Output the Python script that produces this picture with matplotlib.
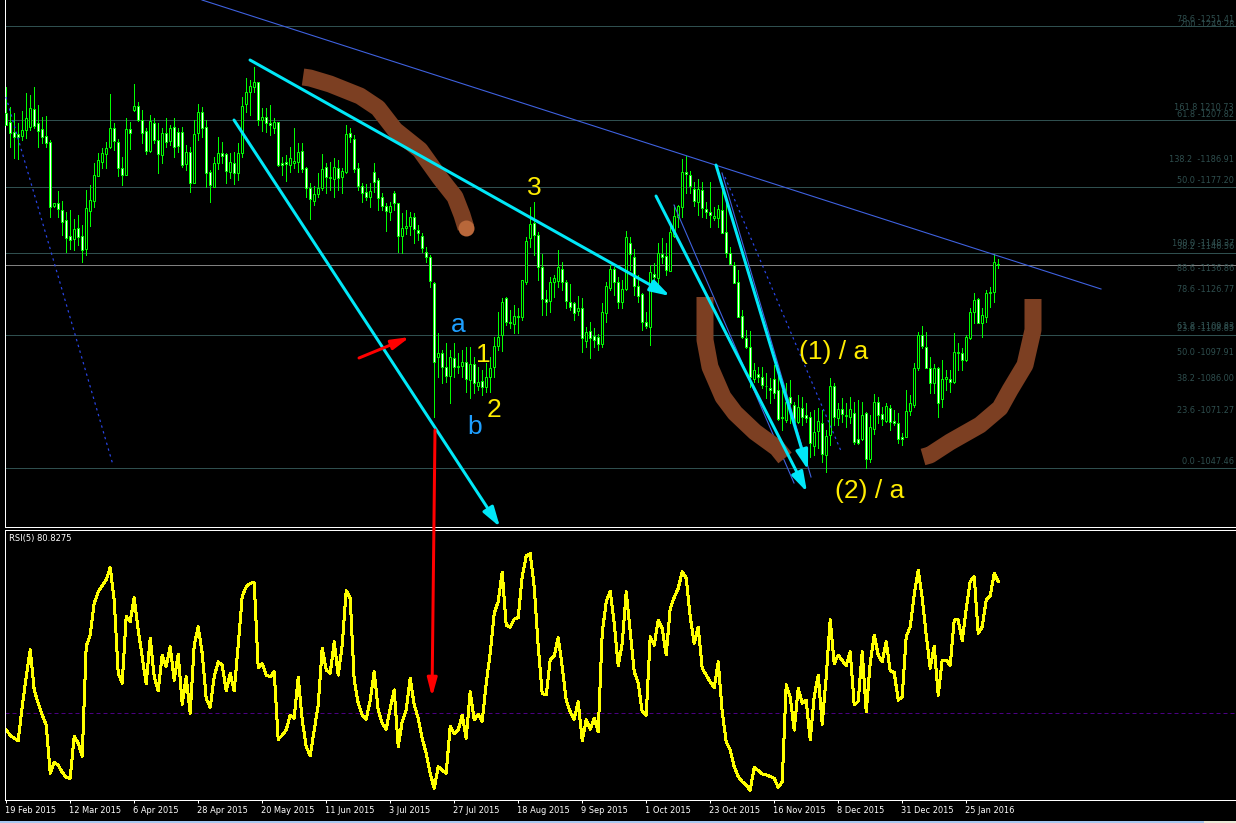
import matplotlib
matplotlib.use("Agg")
import numpy as np
import matplotlib.pyplot as plt
from matplotlib.patches import Rectangle
from matplotlib.transforms import ScaledTranslation

W, H = 1236, 823

highs = [1223.4,1214.2,1211.1,1206.5,1212.3,1220.3,1219.6,1223.1,1214.9,1209.6,1209.9,1198.8,1169.6,1175.3,1170.8,1165.7,1166.5,1162.2,1164.2,1159.6,
1175.7,1178.0,1188.0,1192.6,1194.9,1198.0,1220.0,1206.5,1199.1,1191.1,1208.8,1207.3,1224.6,1216.5,1212.6,1204.2,1210.3,1208.8,1206.5,1204.2,
1208.8,1205.7,1208.8,1204.2,1204.9,1196.5,1195.7,1208.0,1215.4,1214.2,1208.0,1184.9,1191.1,1200.0,1198.0,1192.6,1192.6,1193.4,1197.2,1218.8,
1227.2,1226.5,1232.3,1225.7,1213.4,1213.4,1214.9,1208.8,1207.3,1190.8,1191.9,1195.7,1204.2,1197.2,1197.2,1186.5,1178.8,1177.6,1183.4,1192.2,
1188.0,1188.8,1190.6,1189.6,1185.7,1205.7,1204.2,1201.1,1188.0,1178.8,1178.5,1178.8,1188.0,1181.1,1174.5,1169.6,1170.3,1175.3,1169.6,1165.0,
1166.5,1165.4,1165.0,1159.6,1155.7,1149.6,1145.8,1133.4,1109.6,1101.9,1105.0,1101.9,1105.0,1100.4,1101.9,1103.4,1103.4,1098.8,1094.2,1092.7,
1095.8,1098.8,1108.1,1119.3,1125.8,1126.5,1120.4,1122.7,1121.1,1134.2,1153.9,1168.1,1170.0,1156.5,1146.2,1129.6,1135.8,1136.5,1148.0,1142.4,
1134.2,1132.4,1124.2,1126.8,1125.8,1112.7,1115.0,1111.9,1109.3,1123.8,1133.4,1141.1,1140.4,1135.8,1134.2,1156.8,1154.2,1148.5,1136.5,1128.1,
1119.6,1141.1,1141.9,1151.1,1153.4,1151.1,1159.1,1168.8,1168.8,1190.0,1191.6,1184.5,1179.6,1180.7,1179.6,1170.3,1179.3,1168.0,1168.8,1177.3,
1171.1,1149.6,1142.7,1138.8,1120.4,1111.1,1110.8,1095.8,1094.2,1094.2,1091.1,1088.8,1095.0,1092.7,1083.5,1086.5,1088.1,1078.1,1081.1,1080.4,
1077.3,1073.5,1074.2,1075.0,1074.2,1065.0,1088.8,1086.5,1077.3,1079.6,1077.3,1080.4,1078.1,1078.8,1078.1,1073.5,1071.9,1081.6,1080.4,1075.8,
1077.3,1076.5,1074.2,1072.7,1063.5,1083.5,1081.1,1095.8,1110.4,1113.0,1110.4,1098.8,1095.4,1094.2,1097.3,1092.7,1092.7,1109.9,1105.0,1102.7,
1108.8,1121.1,1128.0,1125.7,1121.1,1129.6,1131.1,1146.2,1143.7]

lows = [1205.7,1195.7,1190.6,1189.9,1198.8,1199.6,1203.4,1204.2,1195.4,1197.6,1195.4,1163.4,1168.0,1163.4,1155.0,1147.3,1148.3,1148.0,1150.3,1142.7,
1145.7,1159.1,1168.0,1182.6,1185.7,1185.7,1194.9,1194.2,1182.2,1178.0,1182.6,1194.5,1212.3,1207.7,1197.2,1192.3,1193.4,1197.2,1183.4,1188.0,
1195.7,1196.5,1191.1,1193.4,1186.5,1184.9,1174.9,1178.8,1198.8,1200.3,1176.9,1170.3,1176.9,1185.2,1188.0,1178.8,1181.1,1178.5,1180.3,1191.1,
1211.9,1210.3,1221.1,1205.7,1203.1,1202.6,1201.1,1201.9,1186.8,1182.6,1180.0,1184.2,1185.7,1184.2,1184.2,1172.6,1162.3,1168.8,1172.3,1175.7,
1174.2,1175.7,1172.6,1175.7,1174.2,1183.4,1198.0,1184.2,1175.7,1170.3,1171.1,1168.0,1174.9,1166.5,1166.5,1156.8,1161.9,1166.5,1147.3,1146.5,
1155.3,1155.0,1151.1,1152.7,1147.3,1142.7,1130.8,1071.1,1089.6,1086.5,1087.3,1077.3,1089.6,1091.1,1089.6,1082.7,1079.6,1081.9,1083.5,1081.2,
1082.7,1082.7,1089.6,1101.9,1101.6,1113.5,1111.9,1109.6,1109.6,1115.8,1132.4,1149.6,1145.8,1134.2,1118.1,1118.1,1119.6,1126.5,1131.1,1129.6,
1121.1,1120.4,1115.8,1118.1,1101.1,1103.4,1098.4,1103.4,1101.9,1103.4,1115.0,1129.6,1127.3,1121.1,1121.1,1129.6,1138.8,1127.3,1124.2,1111.1,
1111.9,1104.2,1129.6,1130.4,1141.9,1136.5,1138.5,1154.2,1158.5,1163.4,1174.2,1174.2,1168.5,1164.2,1163.1,1162.7,1158.8,1161.9,1158.8,1155.7,
1145.0,1141.6,1132.7,1117.3,1107.3,1102.7,1085.0,1087.3,1087.3,1084.2,1079.6,1077.3,1079.6,1069.6,1065.0,1068.8,1068.1,1068.4,1068.4,1067.3,
1068.8,1052.7,1053.5,1056.5,1050.4,1045.8,1058.1,1067.3,1067.3,1068.8,1066.5,1068.1,1058.5,1058.5,1060.4,1047.3,1050.4,1063.2,1068.1,1067.3,
1068.8,1065.0,1067.3,1059.1,1058.1,1061.6,1071.9,1075.8,1092.7,1102.7,1093.5,1081.9,1081.9,1071.1,1075.8,1083.5,1082.7,1086.5,1092.7,1092.7,
1097.0,1106.8,1114.2,1114.2,1108.1,1115.0,1121.9,1123.9,1139.6]

opens = [1211.4,1207.3,1202.6,1201.6,1200.6,1203.4,1204.9,1212.9,1206.5,1203.7,1200.6,1198.0,1168.5,1169.6,1166.5,1161.9,1154.5,1153.1,1158.0,1154.5,
1148.3,1166.2,1170.8,1182.3,1188.8,1192.3,1195.7,1204.2,1197.7,1185.7,1182.6,1203.7,1212.6,1214.5,1208.0,1202.9,1193.9,1206.8,1198.8,1191.9,
1201.9,1198.5,1204.6,1202.3,1202.3,1187.6,1193.4,1178.8,1201.9,1211.9,1204.9,1184.2,1176.9,1188.0,1192.9,1192.2,1184.2,1188.3,1183.4,1192.9,
1215.2,1221.1,1223.4,1225.7,1208.0,1209.6,1206.5,1204.5,1206.9,1188.0,1188.5,1187.3,1188.3,1188.8,1193.6,1185.7,1176.5,1170.8,1173.7,1176.5,
1186.2,1181.4,1180.6,1185.7,1181.6,1184.2,1201.9,1199.1,1185.7,1177.6,1174.6,1172.6,1184.2,1180.3,1172.3,1168.3,1165.7,1174.5,1169.6,1154.7,
1158.3,1159.3,1163.1,1157.3,1154.7,1147.3,1145.0,1132.7,1098.5,1100.7,1094.2,1090.1,1098.4,1094.2,1094.7,1096.5,1088.1,1095.3,1085.5,1087.8,
1084.7,1089.3,1094.2,1103.9,1108.8,1125.8,1115.0,1113.9,1117.6,1117.3,1133.4,1153.4,1160.4,1155.0,1140.0,1125.3,1124.7,1133.1,1133.9,1139.1,
1133.4,1124.2,1123.4,1119.9,1121.4,1106.1,1110.8,1108.4,1107.8,1104.7,1119.1,1130.4,1139.1,1133.1,1124.2,1130.1,1151.1,1144.7,1131.6,1127.6,
1115.0,1112.7,1136.8,1135.0,1146.2,1145.3,1138.5,1154.5,1163.4,1168.0,1183.9,1182.5,1176.0,1170.3,1175.7,1166.8,1165.4,1163.0,1162.7,1166.5,
1156.2,1146.5,1141.1,1133.1,1117.6,1107.3,1103.4,1088.4,1090.8,1089.3,1085.5,1084.2,1088.4,1083.5,1070.8,1069.6,1080.4,1076.5,1068.8,1075.0,
1071.8,1071.2,1057.6,1064.7,1068.1,1053.5,1062.5,1085.5,1070.4,1074.5,1071.5,1071.1,1073.0,1060.7,1060.7,1072.7,1051.5,1065.3,1078.1,1072.2,
1069.3,1075.3,1069.1,1068.4,1061.6,1061.9,1073.9,1076.5,1093.5,1108.8,1103.4,1093.5,1086.5,1093.5,1079.2,1088.5,1088.4,1087.0,1100.4,1100.7,
1097.3,1107.3,1119.3,1125.3,1114.2,1117.3,1128.0,1128.8,1141.7]

closes = [1205.7,1202.2,1200.3,1200.0,1203.4,1208.8,1213.4,1205.2,1203.1,1200.3,1197.6,1168.0,1169.6,1167.0,1161.1,1153.7,1152.6,1157.7,1154.2,1148.0,
1167.3,1171.1,1182.6,1189.6,1192.6,1194.9,1204.2,1198.5,1185.7,1182.6,1203.7,1202.2,1214.5,1208.0,1202.2,1193.9,1207.6,1198.8,1192.2,1201.9,
1198.0,1204.2,1195.7,1196.0,1187.1,1193.4,1179.1,1201.4,1211.9,1204.2,1183.7,1178.0,1188.0,1192.9,1191.6,1184.5,1188.5,1183.7,1192.9,1214.6,
1221.1,1223.9,1225.4,1208.0,1209.2,1206.5,1205.7,1207.3,1187.1,1187.1,1187.6,1190.3,1188.9,1193.1,1185.4,1176.5,1171.4,1173.7,1176.5,1185.2,
1181.9,1181.9,1186.2,1181.4,1184.6,1201.6,1200.0,1185.3,1177.6,1174.5,1172.6,1175.3,1179.6,1171.9,1168.3,1166.2,1168.3,1169.9,1154.6,1158.0,
1159.1,1163.1,1157.7,1155.7,1149.1,1145.0,1133.9,1096.2,1100.7,1093.9,1090.1,1098.8,1093.9,1094.7,1096.5,1088.4,1095.3,1086.5,1087.3,1084.7,
1089.3,1093.8,1103.9,1108.1,1124.2,1115.0,1114.5,1117.6,1117.3,1134.2,1152.2,1160.0,1155.0,1140.4,1125.3,1124.2,1133.4,1135.0,1140.0,1133.4,
1124.7,1121.9,1118.9,1121.1,1107.6,1110.4,1107.6,1106.5,1104.7,1119.3,1131.4,1139.1,1133.4,1124.2,1129.9,1153.9,1146.2,1131.6,1127.0,1114.7,
1113.1,1138.0,1135.4,1146.8,1145.0,1138.8,1156.2,1163.7,1168.5,1183.9,1183.0,1177.6,1170.8,1176.0,1167.3,1165.4,1164.2,1163.7,1166.8,1155.7,
1146.5,1141.6,1132.7,1117.3,1108.1,1103.1,1089.3,1092.7,1089.3,1085.8,1085.3,1083.5,1082.2,1069.9,1070.4,1077.8,1077.6,1068.8,1075.5,1071.1,
1070.7,1059.1,1064.2,1069.3,1053.8,1062.2,1085.5,1070.8,1074.5,1072.2,1071.9,1074.5,1059.6,1059.1,1071.9,1051.5,1066.2,1078.1,1071.9,1069.9,
1076.2,1068.8,1068.4,1060.8,1060.7,1073.9,1077.3,1093.5,1108.8,1103.8,1093.8,1086.5,1093.5,1077.6,1088.4,1089.3,1087.0,1100.8,1100.8,1097.3,
1108.1,1119.6,1125.0,1114.5,1118.1,1128.0,1128.8,1142.4,1141.1]

rsi = [46.0,44.8,44.1,43.5,51.5,58.5,64.8,55.4,52.3,49.5,47.2,35.9,38.4,37.8,36.1,34.9,34.7,44.6,42.9,39.9,
65.6,68.3,75.7,78.4,79.8,81.2,84.1,76.5,59.3,57.0,72.6,71.4,77.0,69.5,63.2,56.8,67.5,58.5,55.2,63.6,
60.9,65.6,57.7,63.8,52.0,58.5,49.9,65.9,70.2,64.0,53.4,51.3,58.5,62.0,61.2,55.2,59.3,55.2,65.9,77.3,
79.6,80.4,80.6,60.6,61.6,58.9,58.5,59.7,43.8,44.8,46.0,49.5,48.8,58.4,48.4,42.1,40.0,46.0,51.9,65.2,
60.1,59.3,66.7,58.9,65.9,78.7,76.9,57.7,52.3,49.5,48.5,53.0,59.7,50.7,47.6,46.2,51.1,55.4,42.1,48.0,
50.7,58.1,51.9,48.8,44.1,40.5,35.9,32.3,37.4,36.6,35.9,46.9,45.2,46.0,49.5,44.1,55.0,48.4,49.7,48.0,
57.0,64.0,73.4,76.1,
83.0,70.6,70.1,72.0,72.4,82.0,86.8,87.4,79.6,65.6,54.6,54.2,62.4,63.4,67.7,60.9,53.0,50.3,48.5,52.7,
43.5,48.4,46.2,48.8,45.6,68.7,76.1,78.6,71.0,61.1,66.3,78.4,69.1,59.7,57.0,50.3,49.5,67.9,65.9,71.8,
69.8,63.6,74.5,77.1,79.2,83.1,81.6,72.6,66.3,70.1,60.5,58.9,57.3,55.9,62.0,50.3,43.3,41.3,37.4,35.1,
33.9,33.1,31.9,37.3,36.5,35.7,35.5,35.1,34.7,32.6,33.9,56.6,53.8,46.0,55.8,52.3,53.0,43.7,53.8,58.9,
47.4,58.5,71.9,61.6,63.6,62.3,61.1,64.4,51.9,52.7,64.4,50.3,61.6,68.3,63.6,62.0,66.7,59.9,59.5,53.0,
53.8,67.9,70.2,77.7,83.5,76.9,68.3,60.5,65.7,54.2,62.4,62.4,61.2,71.8,71.8,66.9,74.5,80.8,82.0,68.7,
70.2,76.5,77.4,82.7,80.8]

date_labels = ["19 Feb 2015","12 Mar 2015","6 Apr 2015","28 Apr 2015","20 May 2015","11 Jun 2015","3 Jul 2015","27 Jul 2015",
               "18 Aug 2015","9 Sep 2015","1 Oct 2015","23 Oct 2015","16 Nov 2015","8 Dec 2015","31 Dec 2015","25 Jan 2016"]

fib_lines = [1251.41, 1207.82, 1177.20, 1146.56, 1108.85, 1047.46]
fib_prices = [1251.41,1249.28,1210.73,1207.82,1186.91,1177.20,1148.37,1146.56,1136.86,1126.77,1109.83,1108.85,1097.91,1086.00,1071.27,1047.46]
fib_texts = ["78.6 -1251.41","200 -1249.28","161.8 1210.73","61.8 -1207.82","138.2  -1186.91","50.0 -1177.20","100.0 -1148.37","38.2 -1146.56",
             "88.6 -1136.86","78.6 -1126.77","61.8 -1109.83","23.6 -1108.85","50.0 -1097.91","38.2 -1086.00","23.6 -1071.27","0.0 -1047.46"]

# hand drawn stuff, in screen pixels
cyan_arrows = [((250,60),(670,296)), ((234,120),(500,527)), ((656,196),(807,492)), ((716,165),(808,470))]
red_arrows = [((359,358),(410,337)), ((435,430),(432,697))]
blue_solid = [((202,0),(1101,289)), ((674,205),(794,483)), ((722,173),(811,477))]
blue_dotted = [((6,97),(113,465)), ((725,177),(841,451))]
brush1 = [(303,77),(310,78),(330,84),(360,96),(378,108),(395,130),(420,150),(440,178),(455,197),(462,215),(466,228)]
brush2 = [(705,297),(705,340),(710,367),(723,397),(735,413),(755,432),(777,448),(785,458)]
brush3 = [(923,457),(930,455),(950,442),(980,425),(1000,408),(1010,390),(1025,365),(1033,330),(1033,299)]
yellow_texts = [("3",534,188),("1",483,355),("2",494,410),("(1) / a",834,352),("(2) / a",870,491)]
blue_texts = [("a",458,325),("b",475,427)]

GREEN = "#00ff00"
GRID = "#2f4f4f"
CYAN = "#00e8f8"
PX = 0.72

def px_axes(fig, x0, y0, x1, y1):
    return fig.add_axes([x0/W, 1-y1/H, (x1-x0)/W, (y1-y0)/H])

def x_lim(x0, x1):
    # bars sit 4 px apart; the .2 keeps the snapped outlines on the same pixel columns
    return (x0-6.2)/4, (x1-6.2)/4

fig = plt.figure(figsize=(W/100, H/100), dpi=100, facecolor="black")
plt.rcParams["font.family"] = "DejaVu Sans"

ax = px_axes(fig, 5, 0, W, 527)
ax.set_facecolor("black")
ax.set_xlim(*x_lim(5, W))
ax.set_ylim(1263.4-0.4614*527, 1263.4)
ax.set_xticks([])
ax.set_yticks([])
for s in ["top", "right"]:
    ax.spines[s].set_visible(False)
for s in ["left", "bottom"]:
    ax.spines[s].set_color("white")
    ax.spines[s].set_linewidth(PX)

for p in fib_lines:
    ax.axhline(p, color=GRID, lw=PX, zorder=1, antialiased=False)
ax.axhline(closes[-1], color="#808080", lw=PX, zorder=1, antialiased=False)
for p, t in zip(fib_prices, fib_texts):
    ax.annotate(t, (W-2, p), xycoords=("figure pixels", "data"), xytext=(0, 4.5), textcoords="offset points",
                color=GRID, fontsize=5.9, ha="right", va="center", zorder=1)

idx = np.arange(len(closes))
o, c = np.array(opens), np.array(closes)
ax.vlines(idx, lows, highs, color=GREEN, lw=PX, zorder=2, antialiased=False)
bear = c < o
ax.bar(idx[bear], (o-c)[bear], bottom=c[bear], width=0.5, color="white", edgecolor=GREEN, lw=PX, zorder=3)
ax.bar(idx[~bear], (c-o)[~bear], bottom=o[~bear], width=0.5, color="black", edgecolor=GREEN, lw=PX, zorder=3)

ax2 = px_axes(fig, 5, 530, W, 800)
ax2.set_facecolor("black")
ax2.set_xlim(*x_lim(5, W))
ax2.set_ylim(50+(713-800)*0.2344, 50+(713-530)*0.2344)
ax2.spines["right"].set_visible(False)
for s in ["left", "bottom", "top"]:
    ax2.spines[s].set_color("white")
    ax2.spines[s].set_linewidth(PX)
ax2.axhline(50, color="#4b0082", lw=PX, ls=(0, (4, 3)), zorder=1)
ax2.plot(idx, rsi, color="#ffff00", lw=2*PX, zorder=2, antialiased=False)
ax2.set_yticks([])
ax2.set_xticks(idx[::16][:len(date_labels)])
ax2.set_xticklabels(date_labels, color="white", fontsize=5.95, ha="left")
ax2.tick_params(axis="x", color="white", length=2.2, width=PX, pad=2)
nudge = ScaledTranslation(-1/100, 0, fig.dpi_scale_trans)
for lab in ax2.get_xticklabels():
    lab.set_transform(lab.get_transform() + nudge)
fig.text(9/W, 1-538/H, "RSI(5) 80.8275", color="white", fontsize=6.0, va="center", zorder=20)

# overlay for the drawn trendlines, arrows and text
ov = fig.add_axes([0, 0, 1, 1], facecolor="none", zorder=10)
ov.set_xlim(0, W)
ov.set_ylim(H, 0)
ov.axis("off")

# window edge at the bottom of the screenshot
ov.add_patch(Rectangle((0, 821), 1204, 2, color="#a8c8f0", lw=0))
ov.add_patch(Rectangle((1204, 821), W-1204, 2, color="#ece9d8", lw=0))

for (a, b) in blue_solid:
    ov.plot([a[0], b[0]], [a[1], b[1]], color="#3f62e0", lw=PX*1.1, zorder=2)
for (a, b) in blue_dotted:
    ov.plot([a[0], b[0]], [a[1], b[1]], color="#2a46e8", lw=PX*1.2, ls=(0, (2, 3)), zorder=2)

for pts in (brush1, brush2, brush3):
    xs, ys = zip(*pts)
    ov.plot(xs, ys, color="#7c3f22", lw=17*PX, solid_capstyle="butt", solid_joinstyle="round", zorder=3)
ov.plot([brush1[-1][0]], [brush1[-1][1]], "o", ms=16*PX, color="#b8673a", mew=0, zorder=3)

for (a, b) in cyan_arrows:
    ov.annotate("", xy=b, xytext=a, zorder=4,
                arrowprops=dict(arrowstyle="-|>,head_length=0.85,head_width=0.26", color=CYAN, lw=3*PX,
                                mutation_scale=14, shrinkA=0, shrinkB=0))
for (a, b) in red_arrows:
    ov.annotate("", xy=b, xytext=a, zorder=4,
                arrowprops=dict(arrowstyle="-|>,head_length=0.9,head_width=0.24", color="#ff0000", lw=3*PX,
                                mutation_scale=12, shrinkA=0, shrinkB=0))

for t, x, y in yellow_texts:
    ov.text(x, y, t, color="#ffec00", fontsize=19, family="Liberation Sans", ha="center", va="center", zorder=5)
for t, x, y in blue_texts:
    ov.text(x, y, t, color="#1e9fff", fontsize=19, family="Liberation Sans", ha="center", va="center", zorder=5)

fig.savefig("out.png", dpi=100, facecolor="black")
